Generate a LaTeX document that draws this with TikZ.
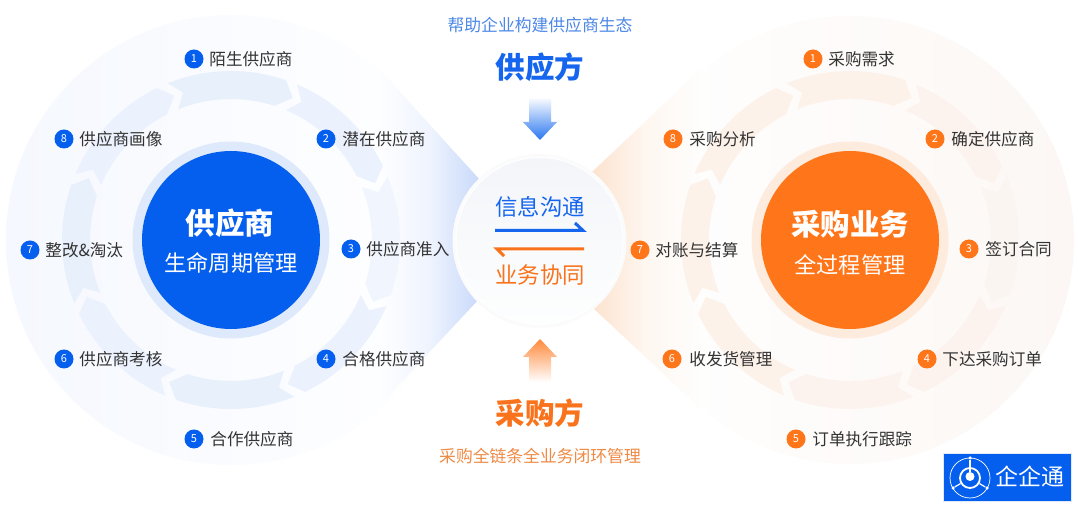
\documentclass[tikz,border=0pt]{standalone}
\usepackage{fontspec}
\setmainfont{Noto Sans CJK SC}
\usetikzlibrary{positioning}
\definecolor{bluemain}{HTML}{055FEE}
\definecolor{bluehalo}{HTML}{DFE9FC}
\definecolor{orangemain}{HTML}{FF7519}
\definecolor{orangehalo}{HTML}{FDEBDD}
\definecolor{bluetext}{HTML}{1565EE}
\definecolor{orangetext}{HTML}{F9731C}
\definecolor{itemgray}{HTML}{333333}
\definecolor{bluecap}{HTML}{4D88E6}
\definecolor{orangecap}{HTML}{EE8A45}
\definecolor{bluedisc}{HTML}{F5F8FE}
\definecolor{orangedisc}{HTML}{FCF7F4}
\definecolor{bluewedge}{HTML}{C8D9FA}
\definecolor{orangewedge}{HTML}{FCE3CF}
\definecolor{midtop}{HTML}{F3F5F9}
\definecolor{midbot}{HTML}{FDFEFE}
\definecolor{bringa}{HTML}{E8F0FC}
\definecolor{bringb}{HTML}{EBF1FD}
\definecolor{bringc}{HTML}{F0F5FE}
\definecolor{oringa}{HTML}{FDF2EA}
\definecolor{oringb}{HTML}{FCF3EE}
\definecolor{oringc}{HTML}{FBF5F2}
\newcommand{\ringseg}[4]{%
  \fill[shift={(#1,#2)},fill=#4] (#3:169) arc[start angle=#3, end angle=#3+41, radius=169]
    -- (#3+45.5:155) -- (#3+40:141) arc[start angle=#3+40, end angle=#3, radius=141]
    -- (#3+4:155) -- cycle;}
\begin{document}
\begin{tikzpicture}[
    x=1pt, y=-1pt,
    badge/.style={circle, minimum size=19pt, inner sep=0pt, text=white, text height=8pt, text depth=0pt, font=\fontsize{11}{11}\selectfont},
    bluebadge/.style={badge, fill=bluemain},
    orangebadge/.style={badge, fill=orangemain},
    itemtext/.style={inner sep=0pt, text=itemgray, text height=14.6pt, text depth=2pt, font=\fontsize{16.6}{20}\selectfont},
    ball/.style={circle, minimum size=178pt, inner sep=0pt},
    halo/.style={circle, minimum size=197pt, inner sep=0pt},
    bigtitle/.style={inner sep=0pt, font=\fontsize{29.5}{34}\selectfont\bfseries},
    subtitle/.style={inner sep=0pt, text=white, font=\fontsize{22.2}{26}\selectfont},
    midtext/.style={inner sep=0pt, font=\fontsize{22.4}{26}\selectfont},
    captext/.style={inner sep=0pt, font=\fontsize{16.8}{20}\selectfont},
    midline/.style={line width=3pt, line join=miter}
]
    \useasboundingbox (0,0) rectangle (1080,510);
    \fill[white] (0,0) rectangle (1080,510);

    % outer discs
    \node[circle, minimum size=450pt, inner sep=0pt, left color=bluedisc, right color=white] (ldisc) at (231,240) {};
    \node[circle, minimum size=448pt, inner sep=0pt, left color=white, right color=orangedisc] (rdisc) at (850,240) {};

    % wedges towards the middle
    \shade[left color=bluedisc!17!white, right color=bluewedge, middle color=bluewedge!30!white] (380,70) -- (480,180) -- (480,298) -- (380,405) -- cycle;
    \shade[left color=orangewedge, right color=orangedisc!17!white, middle color=orangewedge!30!white] (592,172) -- (700,70) -- (700,408) -- (592,307) -- cycle;

    % ring of arrows, left
    \ringseg{231}{240}{-112}{bringa}
    \ringseg{231}{240}{-67}{bringb}
    \ringseg{231}{240}{-22}{bringc}
    \ringseg{231}{240}{23}{bringb}
    \ringseg{231}{240}{68}{bringa}
    \ringseg{231}{240}{113}{bringb}
    \ringseg{231}{240}{158}{bringa}
    \ringseg{231}{240}{203}{bringb}

    % ring of arrows, right
    \ringseg{850}{240}{-112}{oringa}
    \ringseg{850}{240}{-67}{oringb}
    \ringseg{850}{240}{-22}{oringc}
    \ringseg{850}{240}{23}{oringb}
    \ringseg{850}{240}{68}{oringb}
    \ringseg{850}{240}{113}{oringa}
    \ringseg{850}{240}{158}{oringa}
    \ringseg{850}{240}{203}{oringa}

    % core circles
    \node[halo, fill=bluehalo] (lhalo) at (231,240) {};
    \node[ball, fill=bluemain] (lball) at (231,240) {};
    \node[halo, fill=orangehalo] (rhalo) at (850,240) {};
    \node[ball, fill=orangemain] (rball) at (850,240) {};
    \node[bigtitle, text=white] (ltitle) at (230,223) {供应商};
    \node[subtitle] (lsub) at (231,263) {生命周期管理};
    \node[bigtitle, text=white] (rtitle) at (850,224) {采购业务};
    \node[subtitle] (rsub) at (850,265) {全过程管理};

    % middle circle
    \node[circle, minimum size=174pt, inner sep=0pt, fill=black!1.5!white] (cshadow) at (539.5,241) {};
    \node[circle, minimum size=167pt, inner sep=0pt, top color=midtop, bottom color=midbot, draw=white, line width=1pt] (cball) at (539.5,241) {};
    \node[midtext, text=bluetext] (cinfo) at (540,207) {信息沟通};
    \node[midtext, text=orangetext] (cwork) at (540,275) {业务协同};
    \coordinate (infoa) at (495,230.5);
    \coordinate (infob) at (583,230.5);
    \coordinate (infoc) at (575,223);
    \coordinate (worka) at (584,249);
    \coordinate (workb) at (497,249);
    \coordinate (workc) at (504,256);
    \draw[midline, draw=bluetext] (infoa) -- (infob) -- (infoc);
    \draw[midline, draw=orangetext] (worka) -- (workb) -- (workc);

    % top and bottom
    \node[captext, text=bluecap] (topcap) at (540,25) {帮助企业构建供应商生态};
    \node[bigtitle, text=bluetext] (toptitle) at (540,67) {供应方};
    \node[bigtitle, text=orangetext] (bottitle) at (540,413) {采购方};
    \node[captext, text=orangecap] (botcap) at (540,456) {采购全链条全业务闭环管理};
    \shade[top color=white, bottom color=bluemain!85!white] (529,97) -- (551,97) -- (551,122) -- (557,122) -- (540,140) -- (523,122) -- (529,122) -- cycle;
    \shade[top color=orangemain!85!white, bottom color=white] (540,339) -- (557,357) -- (551,357) -- (551,382) -- (529,382) -- (529,357) -- (523,357) -- cycle;

    % left labels
    \node[bluebadge] (l1) at (194,59) {1};
    \node[itemtext, right=5.5pt of l1] (lt1) {陌生供应商};
    \node[bluebadge] (l2) at (326,139) {2};
    \node[itemtext, right=6.5pt of l2] (lt2) {潜在供应商};
    \node[bluebadge] (l3) at (351,249) {3};
    \node[itemtext, right=5.5pt of l3] (lt3) {供应商准入};
    \node[bluebadge] (l4) at (326,359) {4};
    \node[itemtext, right=6.5pt of l4] (lt4) {合格供应商};
    \node[bluebadge] (l5) at (194,439) {5};
    \node[itemtext, right=6.5pt of l5] (lt5) {合作供应商};
    \node[bluebadge] (l6) at (64,359) {6};
    \node[itemtext, right=5.5pt of l6] (lt6) {供应商考核};
    \node[bluebadge] (l7) at (30,250) {7};
    \node[itemtext, right=5.5pt of l7] (lt7) {整改\&淘汰};
    \node[bluebadge] (l8) at (64,139) {8};
    \node[itemtext, right=5.5pt of l8] (lt8) {供应商画像};

    % right labels
    \node[orangebadge] (r1) at (813,59) {1};
    \node[itemtext, right=5.5pt of r1] (rt1) {采购需求};
    \node[orangebadge] (r2) at (935,139) {2};
    \node[itemtext, right=6.5pt of r2] (rt2) {确定供应商};
    \node[orangebadge] (r3) at (969,249) {3};
    \node[itemtext, right=6.5pt of r3] (rt3) {签订合同};
    \node[orangebadge] (r4) at (927,359) {4};
    \node[itemtext, right=5.5pt of r4] (rt4) {下达采购订单};
    \node[orangebadge] (r5) at (796,439) {5};
    \node[itemtext, right=6.5pt of r5] (rt5) {订单执行跟踪};
    \node[orangebadge] (r6) at (672,359) {6};
    \node[itemtext, right=7.5pt of r6] (rt6) {收发货管理};
    \node[orangebadge] (r7) at (640,250) {7};
    \node[itemtext, right=5.5pt of r7] (rt7) {对账与结算};
    \node[orangebadge] (r8) at (673,139) {8};
    \node[itemtext, right=6.5pt of r8] (rt8) {采购分析};

    % logo
    \node[draw=bluehalo, line width=0.5pt, fill=bluemain, minimum width=128pt, minimum height=48pt, inner sep=0pt] (logo) at (1007,477) {};
    \node[circle, draw=white, line width=0.7pt, minimum size=40pt, inner sep=0pt] (logoring) at (970,478) {};
    \node[circle, draw=white, line width=1.8pt, minimum size=20pt, inner sep=0pt] (logoinner) at (970,478) {};
    \node[circle, fill=white, minimum size=9pt, inner sep=0pt] (logohub) at (970,476.5) {};
    \node[circle, fill=white, minimum size=3.5pt, inner sep=0pt] (logoa) at (970,458) {};
    \node[circle, fill=white, minimum size=3.5pt, inner sep=0pt] (logob) at (953,488) {};
    \node[circle, fill=white, minimum size=3.5pt, inner sep=0pt] (logoc) at (987,488) {};
    \draw[white, line width=1.2pt] (logoa) -- (logohub);
    \draw[white, line width=1.2pt] (logob) -- (logoinner);
    \draw[white, line width=1.2pt] (logoc) -- (logoinner);
    \node[inner sep=0pt, text=white, font=\fontsize{23}{26}\selectfont] (logotext) at (1030,477) {企企通};
\end{tikzpicture}
\end{document}
